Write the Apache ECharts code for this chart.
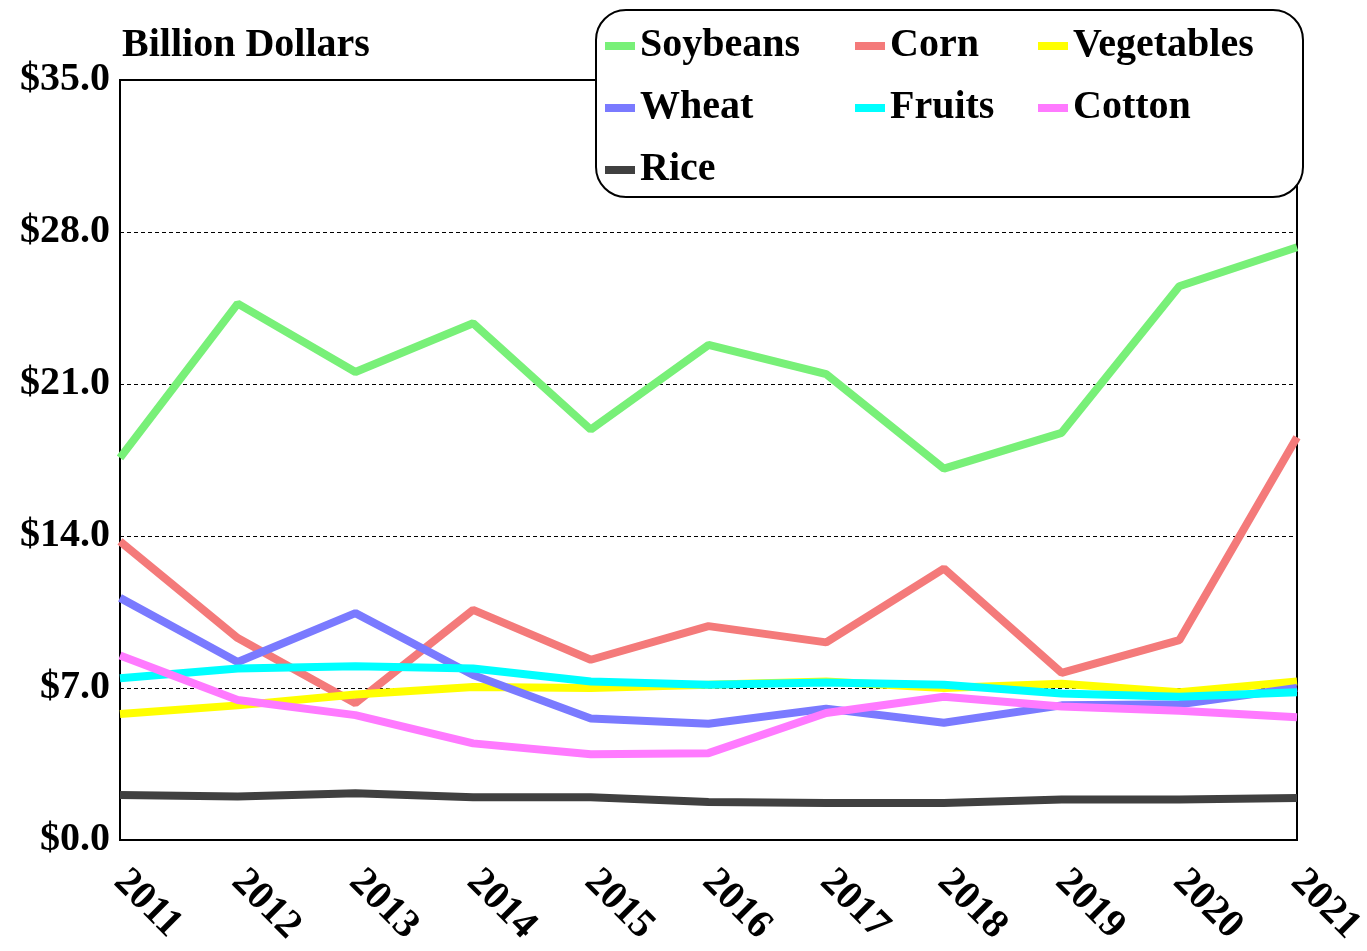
<!DOCTYPE html>
<html>
<head>
<meta charset="utf-8">
<script src="https://cdn.jsdelivr.net/npm/echarts@6/dist/echarts.min.js"></script>
<style>
  html, body { margin: 0; padding: 0; background: #fff; }
  #chart { width: 1367px; height: 951px; }
</style>
</head>
<body>
<div id="chart"></div>
<script>
// years on the x axis
var years = ['2011', '2012', '2013', '2014', '2015', '2016', '2017', '2018', '2019', '2020', '2021'];

// export values, billion dollars
var soybeans   = [17.6, 24.7, 21.55, 23.8, 18.9, 22.8, 21.45, 17.1, 18.75, 25.5, 27.3];
var corn       = [13.75, 9.3, 6.3, 10.6, 8.3, 9.85, 9.1, 12.5, 7.7, 9.2, 18.55];
var vegetables = [5.8, 6.2, 6.7, 7.05, 7.0, 7.15, 7.3, 7.0, 7.2, 6.8, 7.3];
var wheat      = [11.15, 8.2, 10.45, 7.6, 5.6, 5.35, 6.05, 5.4, 6.2, 6.25, 7.0];
var fruits     = [7.45, 7.9, 8.0, 7.9, 7.3, 7.15, 7.25, 7.15, 6.75, 6.6, 6.8];
var cotton     = [8.5, 6.45, 5.75, 4.45, 3.95, 4.0, 5.85, 6.6, 6.15, 5.95, 5.65];
var rice       = [2.07, 2.0, 2.15, 1.97, 1.97, 1.75, 1.7, 1.7, 1.87, 1.87, 1.93];

var font = '"Liberation Serif", "Times New Roman", serif';

var chart = echarts.init(document.getElementById('chart'));

function line(name, data, color) {
  return {
    name: name,
    type: 'line',
    data: data,
    showSymbol: false,
    symbol: 'none',
    lineStyle: { width: 8, color: color },
    itemStyle: { color: color }
  };
}

var legendBase = {
  orient: 'vertical',
  top: 20,
  icon: 'rect',
  itemWidth: 30,
  itemHeight: 8,
  itemGap: 20,
  textStyle: { fontFamily: font, fontWeight: 'bold', fontSize: 40, color: '#000', lineHeight: 42 }
};

var option = {
  backgroundColor: '#fff',
  animation: false,
  grid: {
    left: 120, right: 70, top: 80, bottom: 111,
    outerBoundsMode: 'none',
    containLabel: false,
    show: true, borderColor: '#000', borderWidth: 2
  },
  graphic: [{
    type: 'rect',
    shape: { x: 596, y: 10, width: 707, height: 187, r: 30 },
    style: { fill: '#fff', stroke: '#000', lineWidth: 2 },
    z: 100
  }, {
    type: 'text',
    left: 122, top: 26,
    style: { text: 'Billion Dollars', fontFamily: font, fontWeight: 'bold', fontSize: 40, fill: '#000' }
  }],
  legend: [
    Object.assign({}, legendBase, { left: 600, data: ['Soybeans', 'Wheat', 'Rice'], z: 110 }),
    Object.assign({}, legendBase, { left: 850, data: ['Corn', 'Fruits'], z: 110 }),
    Object.assign({}, legendBase, { left: 1033, data: ['Vegetables', 'Cotton'], z: 110 })
  ],
  xAxis: {
    type: 'category',
    data: years,
    boundaryGap: false,
    axisLine: { lineStyle: { color: '#000', width: 2 } },
    axisTick: { show: false },
    axisLabel: {
      rotate: -45, margin: 36,
      fontFamily: font, fontWeight: 'bold', fontSize: 40, color: '#000'
    }
  },
  yAxis: {
    type: 'value',
    min: 0, max: 35, interval: 7,
    axisLine: { show: true, lineStyle: { color: '#000', width: 2 } },
    axisTick: { show: false },
    splitLine: { lineStyle: { color: '#000', type: [4, 3], width: 1 } },
    axisLabel: {
      margin: 10,
      fontFamily: font, fontWeight: 'bold', fontSize: 40, color: '#000',
      formatter: function (v) { return '$' + v.toFixed(1); }
    }
  },
  series: [
    line('Soybeans', soybeans, '#78f078'),
    line('Corn', corn, '#f47a7a'),
    line('Vegetables', vegetables, '#ffff00'),
    line('Wheat', wheat, '#7a7aff'),
    line('Fruits', fruits, '#00ffff'),
    line('Cotton', cotton, '#ff7aff'),
    line('Rice', rice, '#404040')
  ]
};

chart.setOption(option);
</script>
</body>
</html>
